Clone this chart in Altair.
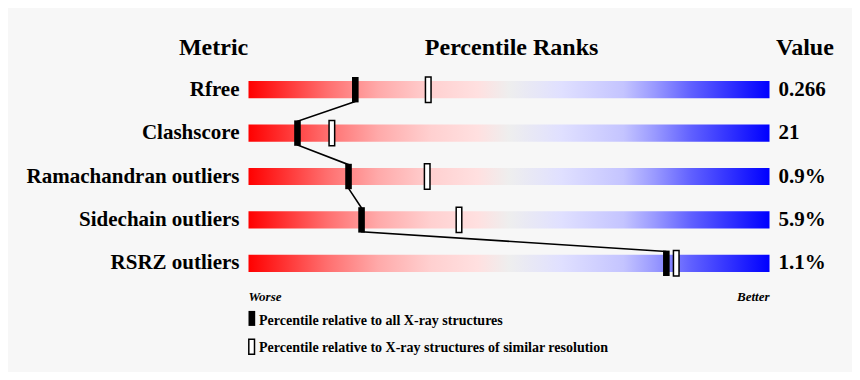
import altair as alt
import pandas as pd

metrics = ["Rfree", "Clashscore", "Ramachandran outliers", "Sidechain outliers", "RSRZ outliers"]
values = ["0.266", "21", "0.9%", "5.9%", "1.1%"]
pct_all = [20.5, 9.4, 19.2, 21.7, 80.2]
pct_similar = [34.5, 16.0, 34.3, 40.4, 82.1]
legend_labels = ["Percentile relative to all X-ray structures",
                 "Percentile relative to X-ray structures of similar resolution"]

W, H = 844, 364
PX = 5.21           # pixels per percentile unit
X0 = 240.5          # pixel of percentile 0 inside plot
ROW = 43.4
Y0 = 81.7           # pixel of row 0 inside plot
xs = alt.Scale(domain=[-X0 / PX, (W - X0) / PX], nice=False, zero=False)
ys = alt.Scale(domain=[-Y0 / ROW, (H - Y0) / ROW], nice=False, zero=False, reverse=True)

rows = list(range(len(metrics)))
BH = 8.6 / ROW      # half bar height
MH = 12.7 / ROW     # half marker height

bars = pd.DataFrame({"row": rows, "metric": metrics, "value": values,
                     "x0": [0] * 5, "x1": [100] * 5,
                     "y0": [r - BH for r in rows], "y1": [r + BH for r in rows]})

mk = pd.DataFrame({"row": rows, "pa": pct_all, "ps": pct_similar,
                   "y0": [r - MH for r in rows], "y1": [r + MH for r in rows],
                   "pa0": [p - 3.3 / PX for p in pct_all], "pa1": [p + 3.3 / PX for p in pct_all],
                   "ps0": [p - 2.8 / PX for p in pct_similar], "ps1": [p + 2.8 / PX for p in pct_similar]})

# connecting polyline: bottom of upper marker to top of lower marker
lp = []
o = 0
for i in rows:
    if i > 0:
        lp.append({"o": o, "x": pct_all[i], "y": i - MH + 0.02}); o += 1
    if i < len(rows) - 1:
        lp.append({"o": o, "x": pct_all[i], "y": i + MH - 0.02}); o += 1
line_df = pd.DataFrame(lp)

grad = alt.Gradient(gradient="linear", x1=0, x2=1, y1=0, y2=0, stops=[
    alt.GradientStop(color="#ff0000", offset=0),
    alt.GradientStop(color="#ff6e6e", offset=0.15),
    alt.GradientStop(color="#ffaaaa", offset=0.25),
    alt.GradientStop(color="#ffd0d0", offset=0.35),
    alt.GradientStop(color="#ffe0e0", offset=0.44),
    alt.GradientStop(color="#eeeeee", offset=0.5),
    alt.GradientStop(color="#e0e0ff", offset=0.6),
    alt.GradientStop(color="#c4c4ff", offset=0.72),
    alt.GradientStop(color="#9999ff", offset=0.78),
    alt.GradientStop(color="#6060ff", offset=0.85),
    alt.GradientStop(color="#0000ff", offset=1),
])

FONT = "Liberation Serif"
X = lambda f: alt.X(f, type="quantitative", scale=xs, axis=None)
Y = lambda f: alt.Y(f, type="quantitative", scale=ys, axis=None)

bar_layer = alt.Chart(bars).mark_rect(color=grad).encode(
    x=X("x0"), x2="x1", y=Y("y0"), y2="y1")

line_layer = alt.Chart(line_df).mark_line(color="black", strokeWidth=1.6).encode(
    x=X("x"), y=Y("y"), order="o:Q")

solid = alt.Chart(mk).mark_rect(color="black").encode(
    x=X("pa0"), x2="pa1", y=Y("y0"), y2="y1")
hollow = alt.Chart(mk).mark_rect(fill="white", stroke="black", strokeWidth=1.5).encode(
    x=X("ps0"), x2="ps1", y=Y("y0"), y2="y1")

labels = alt.Chart(bars).mark_text(align="right", baseline="middle", font=FONT,
                                   fontWeight="bold", fontSize=21, dx=-9).encode(
    x=X("x0"), y=Y("row"), text="metric:N")
vals = alt.Chart(bars).mark_text(align="left", baseline="middle", font=FONT,
                                 fontWeight="bold", fontSize=21, dx=9).encode(
    x=X("x1"), y=Y("row"), text="value:N")

hdr = pd.DataFrame({"x": [-6.7, 50.5, 106.8], "y": [-0.96] * 3,
                    "t": ["Metric", "Percentile Ranks", "Value"]})
headers = alt.Chart(hdr).mark_text(baseline="middle", font=FONT, fontWeight="bold",
                                   fontSize=24).encode(x=X("x"), y=Y("y"), text="t:N")

ends = pd.DataFrame({"x": [0, 100], "y": [4.77, 4.77], "t": ["Worse", "Better"], "a": ["l", "r"]})
worse = alt.Chart(ends[ends.a == "l"]).mark_text(align="left", baseline="middle", font=FONT,
                                                  fontWeight="bold", fontStyle="italic", fontSize=13).encode(
    x=X("x"), y=Y("y"), text="t:N")
better = alt.Chart(ends[ends.a == "r"]).mark_text(align="right", baseline="middle", font=FONT,
                                                   fontWeight="bold", fontStyle="italic", fontSize=13).encode(
    x=X("x"), y=Y("y"), text="t:N")

LM = [5.27, 5.92]   # legend marker rows
LT = [5.32, 5.96]   # legend text rows
LH = 7.5 / ROW
leg = pd.DataFrame({"y": LT, "t": legend_labels,
                    "y0": [v - LH for v in LM], "y1": [v + LH for v in LM],
                    "x0": [0, 0.3 / PX], "x1": [6.7 / PX, 6.0 / PX], "tx": [10.5 / PX, 10.5 / PX]})
leg_solid = alt.Chart(leg.iloc[[0]]).mark_rect(color="black").encode(
    x=X("x0"), x2="x1", y=Y("y0"), y2="y1")
leg_hollow = alt.Chart(leg.iloc[[1]]).mark_rect(fill="white", stroke="black", strokeWidth=1.5).encode(
    x=X("x0"), x2="x1", y=Y("y0"), y2="y1")
leg_text = alt.Chart(leg).mark_text(align="left", baseline="middle", font=FONT, fontWeight="bold",
                                    fontSize=14).encode(x=X("tx"), y=Y("y"), text="t:N")

chart = alt.layer(bar_layer, line_layer, solid, hollow, labels, vals, headers, worse, better,
                  leg_solid, leg_hollow, leg_text).properties(
    width=W, height=H, background="#f7f7f7", padding=0,
    autosize=alt.AutoSizeParams(type="none")
).configure_view(stroke=None)

chart.save("out.html", embed_options={"renderer": "svg", "actions": False})
